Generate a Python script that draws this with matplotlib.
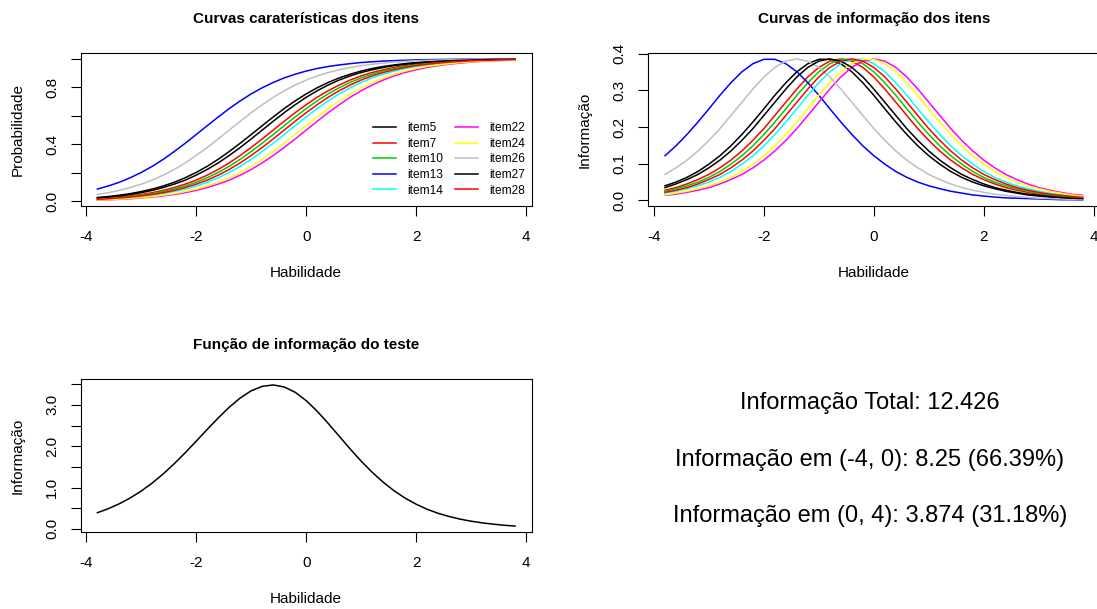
import numpy as np
import matplotlib
matplotlib.use("Agg")
import matplotlib.pyplot as plt

plt.rcParams['font.family'] = ['Liberation Sans', 'DejaVu Sans']
plt.rcParams['axes.unicode_minus'] = False

# habilidade (theta) grid used for every curve
theta = [-3.8, -3.6, -3.4, -3.2, -3.0, -2.8, -2.6, -2.4, -2.2, -2.0,
         -1.8, -1.6, -1.4, -1.2, -1.0, -0.8, -0.6, -0.4, -0.2, 0.0,
         0.2, 0.4, 0.6, 0.8, 1.0, 1.2, 1.4, 1.6, 1.8, 2.0,
         2.2, 2.4, 2.6, 2.8, 3.0, 3.2, 3.4, 3.6, 3.8]

items = ['item5', 'item7', 'item10', 'item13', 'item14',
         'item22', 'item24', 'item26', 'item27', 'item28']
colors = ['black', 'red', '#00CD00', 'blue', 'cyan',
          'magenta', 'yellow', '#BEBEBE', 'black', 'red']

# probabilidade (curvas caracteristicas)
p_item5 = [0.027, 0.034, 0.043, 0.054, 0.069, 0.086, 0.108, 0.134, 0.166, 0.203,
           0.246, 0.295, 0.350, 0.408, 0.469, 0.531, 0.592, 0.651, 0.705, 0.754,
           0.797, 0.834, 0.866, 0.892, 0.914, 0.932, 0.946, 0.957, 0.966, 0.974,
           0.979, 0.984, 0.987, 0.990, 0.992, 0.994, 0.995, 0.996, 0.997]
p_item7 = [0.018, 0.024, 0.030, 0.038, 0.048, 0.061, 0.077, 0.097, 0.121, 0.149,
           0.184, 0.224, 0.270, 0.322, 0.378, 0.438, 0.500, 0.562, 0.622, 0.678,
           0.730, 0.776, 0.816, 0.851, 0.880, 0.904, 0.923, 0.939, 0.952, 0.962,
           0.970, 0.977, 0.982, 0.986, 0.989, 0.991, 0.993, 0.995, 0.996]
p_item10 = [0.016, 0.021, 0.027, 0.034, 0.043, 0.054, 0.069, 0.086, 0.108, 0.134,
            0.166, 0.203, 0.246, 0.295, 0.350, 0.408, 0.469, 0.531, 0.592, 0.651,
            0.705, 0.754, 0.797, 0.834, 0.866, 0.892, 0.914, 0.932, 0.946, 0.957,
            0.966, 0.974, 0.979, 0.984, 0.987, 0.990, 0.992, 0.994, 0.995]
p_item13 = [0.086, 0.108, 0.134, 0.166, 0.203, 0.246, 0.295, 0.350, 0.408, 0.469,
            0.531, 0.592, 0.651, 0.705, 0.754, 0.797, 0.834, 0.866, 0.892, 0.914,
            0.932, 0.946, 0.957, 0.966, 0.974, 0.979, 0.984, 0.987, 0.990, 0.992,
            0.994, 0.995, 0.996, 0.997, 0.998, 0.998, 0.999, 0.999, 0.999]
p_item14 = [0.013, 0.016, 0.021, 0.027, 0.034, 0.043, 0.054, 0.069, 0.086, 0.108,
            0.134, 0.166, 0.203, 0.246, 0.295, 0.350, 0.408, 0.469, 0.531, 0.592,
            0.651, 0.705, 0.754, 0.797, 0.834, 0.866, 0.892, 0.914, 0.932, 0.946,
            0.957, 0.966, 0.974, 0.979, 0.984, 0.987, 0.990, 0.992, 0.994]
p_item22 = [0.009, 0.011, 0.014, 0.018, 0.024, 0.030, 0.038, 0.048, 0.061, 0.077,
            0.097, 0.121, 0.149, 0.184, 0.224, 0.270, 0.322, 0.378, 0.438, 0.500,
            0.562, 0.622, 0.678, 0.730, 0.776, 0.816, 0.851, 0.880, 0.904, 0.923,
            0.939, 0.952, 0.962, 0.970, 0.977, 0.982, 0.986, 0.989, 0.991]
p_item24 = [0.010, 0.013, 0.016, 0.021, 0.027, 0.034, 0.043, 0.054, 0.069, 0.086,
            0.108, 0.134, 0.166, 0.203, 0.246, 0.295, 0.350, 0.408, 0.469, 0.531,
            0.592, 0.651, 0.705, 0.754, 0.797, 0.834, 0.866, 0.892, 0.914, 0.932,
            0.946, 0.957, 0.966, 0.974, 0.979, 0.984, 0.987, 0.990, 0.992]
p_item26 = [0.048, 0.061, 0.077, 0.097, 0.121, 0.149, 0.184, 0.224, 0.270, 0.322,
            0.378, 0.438, 0.500, 0.562, 0.622, 0.678, 0.730, 0.776, 0.816, 0.851,
            0.880, 0.904, 0.923, 0.939, 0.952, 0.962, 0.970, 0.977, 0.982, 0.986,
            0.989, 0.991, 0.993, 0.995, 0.996, 0.997, 0.997, 0.998, 0.998]
p_item27 = [0.024, 0.030, 0.038, 0.048, 0.061, 0.077, 0.097, 0.121, 0.149, 0.184,
            0.224, 0.270, 0.322, 0.378, 0.438, 0.500, 0.562, 0.622, 0.678, 0.730,
            0.776, 0.816, 0.851, 0.880, 0.904, 0.923, 0.939, 0.952, 0.962, 0.970,
            0.977, 0.982, 0.986, 0.989, 0.991, 0.993, 0.995, 0.996, 0.997]
p_item28 = [0.014, 0.018, 0.024, 0.030, 0.038, 0.048, 0.061, 0.077, 0.097, 0.121,
            0.149, 0.184, 0.224, 0.270, 0.322, 0.378, 0.438, 0.500, 0.562, 0.622,
            0.678, 0.730, 0.776, 0.816, 0.851, 0.880, 0.904, 0.923, 0.939, 0.952,
            0.962, 0.970, 0.977, 0.982, 0.986, 0.989, 0.991, 0.993, 0.995]

# informacao dos itens
i_item5 = [0.040, 0.050, 0.063, 0.079, 0.099, 0.122, 0.149, 0.180, 0.214, 0.250,
           0.287, 0.321, 0.351, 0.373, 0.385, 0.385, 0.373, 0.351, 0.321, 0.287,
           0.250, 0.214, 0.180, 0.149, 0.122, 0.099, 0.079, 0.063, 0.050, 0.040,
           0.032, 0.025, 0.020, 0.015, 0.012, 0.009, 0.007, 0.006, 0.005]
i_item7 = [0.028, 0.035, 0.045, 0.057, 0.071, 0.089, 0.110, 0.135, 0.164, 0.196,
           0.232, 0.268, 0.304, 0.337, 0.363, 0.380, 0.386, 0.380, 0.363, 0.337,
           0.304, 0.268, 0.232, 0.196, 0.164, 0.135, 0.110, 0.089, 0.071, 0.057,
           0.045, 0.035, 0.028, 0.022, 0.017, 0.014, 0.011, 0.008, 0.006]
i_item10 = [0.025, 0.032, 0.040, 0.050, 0.063, 0.079, 0.099, 0.122, 0.149, 0.180,
            0.214, 0.250, 0.287, 0.321, 0.351, 0.373, 0.385, 0.385, 0.373, 0.351,
            0.321, 0.287, 0.250, 0.214, 0.180, 0.149, 0.122, 0.099, 0.079, 0.063,
            0.050, 0.040, 0.032, 0.025, 0.020, 0.015, 0.012, 0.009, 0.007]
i_item13 = [0.122, 0.149, 0.180, 0.214, 0.250, 0.287, 0.321, 0.351, 0.373, 0.385,
            0.385, 0.373, 0.351, 0.321, 0.287, 0.250, 0.214, 0.180, 0.149, 0.122,
            0.099, 0.079, 0.063, 0.050, 0.040, 0.032, 0.025, 0.020, 0.015, 0.012,
            0.009, 0.007, 0.006, 0.005, 0.004, 0.003, 0.002, 0.002, 0.001]
i_item14 = [0.020, 0.025, 0.032, 0.040, 0.050, 0.063, 0.079, 0.099, 0.122, 0.149,
            0.180, 0.214, 0.250, 0.287, 0.321, 0.351, 0.373, 0.385, 0.385, 0.373,
            0.351, 0.321, 0.287, 0.250, 0.214, 0.180, 0.149, 0.122, 0.099, 0.079,
            0.063, 0.050, 0.040, 0.032, 0.025, 0.020, 0.015, 0.012, 0.009]
i_item22 = [0.014, 0.017, 0.022, 0.028, 0.035, 0.045, 0.057, 0.071, 0.089, 0.110,
            0.135, 0.164, 0.196, 0.232, 0.268, 0.304, 0.337, 0.363, 0.380, 0.386,
            0.380, 0.363, 0.337, 0.304, 0.268, 0.232, 0.196, 0.164, 0.135, 0.110,
            0.089, 0.071, 0.057, 0.045, 0.035, 0.028, 0.022, 0.017, 0.014]
i_item24 = [0.015, 0.020, 0.025, 0.032, 0.040, 0.050, 0.063, 0.079, 0.099, 0.122,
            0.149, 0.180, 0.214, 0.250, 0.287, 0.321, 0.351, 0.373, 0.385, 0.385,
            0.373, 0.351, 0.321, 0.287, 0.250, 0.214, 0.180, 0.149, 0.122, 0.099,
            0.079, 0.063, 0.050, 0.040, 0.032, 0.025, 0.020, 0.015, 0.012]
i_item26 = [0.071, 0.089, 0.110, 0.135, 0.164, 0.196, 0.232, 0.268, 0.304, 0.337,
            0.363, 0.380, 0.386, 0.380, 0.363, 0.337, 0.304, 0.268, 0.232, 0.196,
            0.164, 0.135, 0.110, 0.089, 0.071, 0.057, 0.045, 0.035, 0.028, 0.022,
            0.017, 0.014, 0.011, 0.008, 0.006, 0.005, 0.004, 0.003, 0.002]
i_item27 = [0.035, 0.045, 0.057, 0.071, 0.089, 0.110, 0.135, 0.164, 0.196, 0.232,
            0.268, 0.304, 0.337, 0.363, 0.380, 0.386, 0.380, 0.363, 0.337, 0.304,
            0.268, 0.232, 0.196, 0.164, 0.135, 0.110, 0.089, 0.071, 0.057, 0.045,
            0.035, 0.028, 0.022, 0.017, 0.014, 0.011, 0.008, 0.006, 0.005]
i_item28 = [0.022, 0.028, 0.035, 0.045, 0.057, 0.071, 0.089, 0.110, 0.135, 0.164,
            0.196, 0.232, 0.268, 0.304, 0.337, 0.363, 0.380, 0.386, 0.380, 0.363,
            0.337, 0.304, 0.268, 0.232, 0.196, 0.164, 0.135, 0.110, 0.089, 0.071,
            0.057, 0.045, 0.035, 0.028, 0.022, 0.017, 0.014, 0.011, 0.008]

prob = [p_item5, p_item7, p_item10, p_item13, p_item14,
        p_item22, p_item24, p_item26, p_item27, p_item28]
info = [i_item5, i_item7, i_item10, i_item13, i_item14,
        i_item22, i_item24, i_item26, i_item27, i_item28]
# test information = sum of the item informations
test_info = np.sum(np.array(info), axis=0)

xticks = [-4, -2, 0, 2, 4]
prob_ticks = [0.0, 0.2, 0.4, 0.6, 0.8, 1.0]
prob_labels = ['0.0', '', '0.4', '', '0.8', '']
info_ticks = [0.0, 0.1, 0.2, 0.3, 0.4]
info_labels = ['0.0', '0.1', '0.2', '0.3', '0.4']
test_ticks = [0.0, 0.5, 1.0, 1.5, 2.0, 2.5, 3.0, 3.5]
test_labels = ['0.0', '', '1.0', '', '2.0', '', '3.0', '']

summary = ['Informação Total: 12.426',
           'Informação em (-4, 0): 8.25 (66.39%)',
           'Informação em (0, 4): 3.874 (31.18%)']

W, H = 1097, 609
fig = plt.figure(figsize=(W / 100, H / 100), dpi=100)


def make_axes(x0, y0):
    # x0, y0: left / top of the plot box in pixels
    return fig.add_axes([x0 / W, 1 - (y0 + 152.4) / H, 451 / W, 152.4 / H])


def style(ax, title, ylabel, yt, yl):
    ax.margins(x=0.04, y=0.04)
    ax.set_xticks(xticks)
    ax.set_yticks(yt, yl)
    for s in ax.spines.values():
        s.set_linewidth(0.8)
    ax.tick_params(direction='out', length=7, width=0.8, labelsize=11, pad=10.5)
    ax.tick_params(axis='y', labelrotation=90, pad=8.5)
    for lab in ax.get_yticklabels():
        lab.set_verticalalignment('center')
    ax.set_title(title, fontsize=11, fontweight='bold', pad=22)
    ax.set_xlabel('Habilidade', fontsize=11, labelpad=16)
    ax.set_ylabel(ylabel, fontsize=11, labelpad=15)


ax1 = make_axes(80.7, 53.3)
for y, c, name in zip(prob, colors, items):
    ax1.plot(theta, y, color=c, lw=1.1, label=name)
style(ax1, 'Curvas caraterísticas dos itens', 'Probabilidade', prob_ticks, prob_labels)
ax1.legend(loc='upper left', bbox_to_anchor=(0.6475, 0.548), ncol=2, frameon=False,
           fontsize=8.6, borderpad=0, borderaxespad=0, handlelength=1.95,
           handletextpad=0.9, columnspacing=1.05, labelspacing=0.3)

ax2 = make_axes(648.3, 53.3)
for y, c in zip(info, colors):
    ax2.plot(theta, y, color=c, lw=1.1)
style(ax2, 'Curvas de informação dos itens', 'Informação', info_ticks, info_labels)

ax3 = make_axes(80.7, 379.3)
ax3.plot(theta, test_info, color='black', lw=1.1)
style(ax3, 'Função de informação do teste', 'Informação', test_ticks, test_labels)

for txt, yp in zip(summary, [403, 460, 516]):
    fig.text(870 / W, 1 - yp / H, txt, fontsize=17, ha='center', va='center')

fig.savefig('out.png', dpi=100)
